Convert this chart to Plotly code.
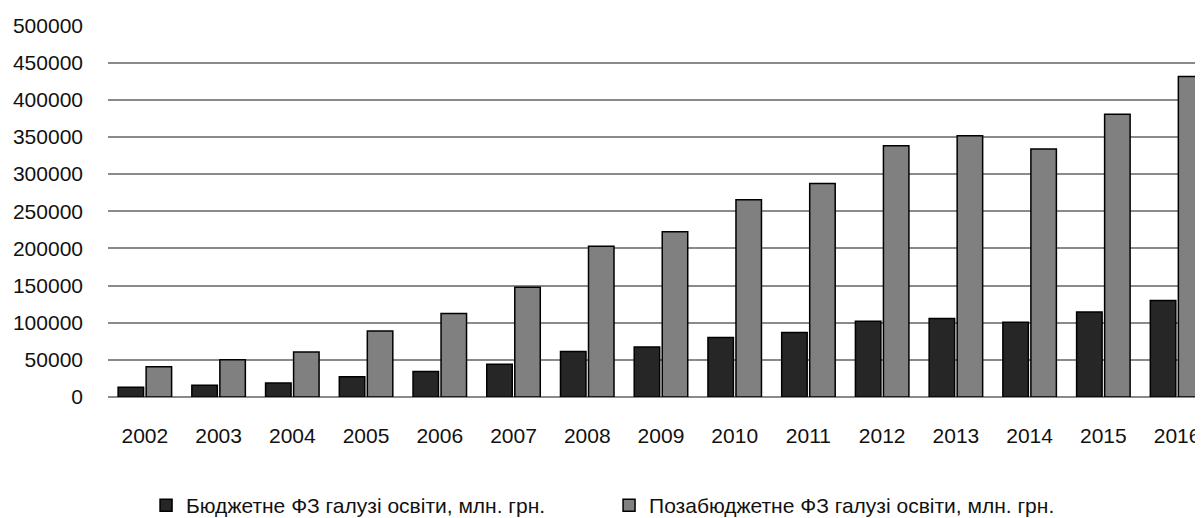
import plotly.graph_objects as go

years = ["2002", "2003", "2004", "2005", "2006", "2007", "2008", "2009",
         "2010", "2011", "2012", "2013", "2014", "2015", "2016"]
budget = [13000, 15700, 18800, 27200, 34400, 44200, 61200, 67400,
          80000, 86700, 101900, 105500, 100500, 114300, 130000]
extra = [40600, 50000, 60700, 88900, 112200, 147500, 202800, 222500,
         265400, 287300, 338200, 351600, 333800, 380300, 431200]
name_budget = "Бюджетне ФЗ галузі освіти, млн. грн."
name_extra = "Позабюджетне ФЗ галузі освіти, млн. грн."
y_ticks = [0, 50000, 100000, 150000, 200000, 250000, 300000, 350000, 400000, 450000, 500000]

FONT = "Liberation Sans, Arial, sans-serif"
TXT = "#111111"

fig = go.Figure()
fig.add_trace(go.Bar(x=years, y=budget, name=name_budget,
                     marker=dict(color="#262626", line=dict(color="#000000", width=1.5))))
fig.add_trace(go.Bar(x=years, y=extra, name=name_extra,
                     marker=dict(color="#808080", line=dict(color="#000000", width=1.5))))

fig.update_layout(
    width=1203, height=518,
    margin=dict(l=100, r=0, t=17, b=128),
    paper_bgcolor="white", plot_bgcolor="white",
    font=dict(family=FONT, size=21, color=TXT),
    barmode="group", bargap=0.24, bargroupgap=0.09,
    showlegend=True,
    legend=dict(orientation="h", x=0.0345, xanchor="left", y=-0.29, yanchor="middle",
                font=dict(family=FONT, size=21, color=TXT), itemwidth=30,
                entrywidth=418, bgcolor="rgba(0,0,0,0)"),
)
fig.update_xaxes(type="category", range=[-0.5, 14.46], showgrid=False,
                 showline=False, ticks="", ticklabelstandoff=24,
                 tickfont=dict(family=FONT, size=21, color=TXT))
fig.update_yaxes(range=[0, 500500], tickvals=y_ticks, tickformat="d",
                 showgrid=True, gridcolor="#8a8a8a", gridwidth=1.5,
                 zeroline=True, zerolinecolor="#8a8a8a", zerolinewidth=1.5,
                 showline=False, ticks="", ticklabelstandoff=24,
                 tickfont=dict(family=FONT, size=21, color=TXT))

fig.write_html("out.html")
